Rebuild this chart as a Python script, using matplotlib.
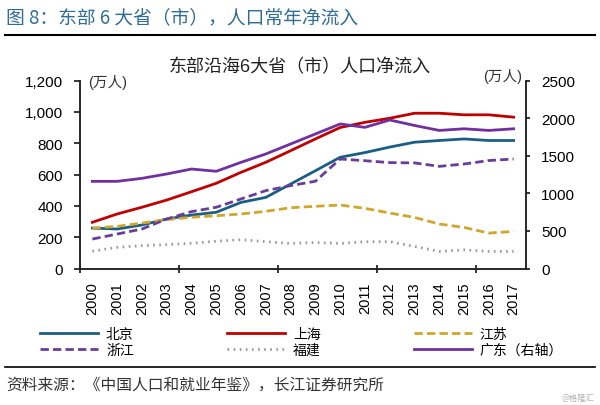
import numpy as np
import matplotlib
matplotlib.use("Agg")
import matplotlib.pyplot as plt
from matplotlib.lines import Line2D
from matplotlib.ticker import FuncFormatter

plt.rcParams["font.family"] = ["Liberation Sans", "Noto Sans CJK SC"]

years = [str(y) for y in range(2000, 2018)]

# 万人, left axis
beijing = [258, 252, 278, 316, 341, 359, 422, 454, 539, 624, 710, 740, 775, 806, 817, 827, 817, 817]
shanghai = [295, 348, 391, 437, 490, 544, 614, 678, 752, 827, 900, 933, 959, 991, 991, 981, 981, 966]
jiangsu = [258, 269, 290, 312, 327, 337, 348, 365, 388, 397, 405, 384, 354, 326, 284, 262, 226, 237]
zhejiang = [188, 220, 252, 316, 363, 391, 444, 497, 529, 557, 699, 688, 676, 674, 652, 667, 689, 699]
fujian = [110, 135, 146, 152, 161, 174, 184, 171, 160, 166, 160, 171, 171, 141, 109, 119, 109, 109]
# 万人, right axis
guangdong = [1159, 1159, 1199, 1257, 1323, 1293, 1412, 1523, 1656, 1789, 1922, 1877, 1975, 1902, 1836, 1858, 1836, 1858]

C_BJ = "#1b5e83"
C_SH = "#c00000"
C_JS = "#d2a62c"
C_ZJ = "#6a3d9a"
C_FJ = "#9a9a9a"
C_GD = "#7030a0"

fig = plt.figure(figsize=(6, 4.06), dpi=100)
ax = fig.add_axes([80 / 600, 1 - 269.5 / 406, 446 / 600, 188 / 406])
ax2 = ax.twinx()

x = np.arange(len(years))
lw = 2.0
h_bj, = ax.plot(x, beijing, color=C_BJ, lw=lw)
h_sh, = ax.plot(x, shanghai, color=C_SH, lw=lw)
h_js, = ax.plot(x, jiangsu, color=C_JS, lw=lw, dashes=(3, 1.5))
h_zj, = ax.plot(x, zhejiang, color=C_ZJ, lw=lw, dashes=(3, 1.5))
h_fj, = ax.plot(x, fujian, color=C_FJ, lw=lw, dashes=(0.6, 1.6))
h_gd, = ax2.plot(x, guangdong, color=C_GD, lw=lw)

ax.set_xlim(-0.5, len(years) - 0.5)
ax.set_ylim(0, 1200)
ax2.set_ylim(0, 2500)
ax.set_yticks(range(0, 1201, 200))
ax.yaxis.set_major_formatter(FuncFormatter(lambda v, p: f"{int(v):,}"))
ax2.set_yticks(range(0, 2501, 500))

ax.set_xticks(x)
ax.set_xticklabels(years, rotation=90)
ax.set_xticks([-0.5, 3.5, 7.5, 11.5, 15.5], minor=True)
ax.tick_params(axis="x", which="major", length=0, pad=9, labelsize=10.5)
ax.tick_params(axis="x", which="minor", direction="inout", length=6, width=1.1)
ax.tick_params(axis="y", direction="out", length=4.5, width=1.1, pad=8, labelsize=11)
ax2.tick_params(axis="y", direction="out", length=3, width=1.1, pad=8, labelsize=11)

for a in (ax, ax2):
    a.spines["top"].set_visible(False)
    for s in ("left", "right", "bottom"):
        a.spines[s].set_linewidth(1.1)
        a.spines[s].set_color("#222222")

fig.text(300 / 600, 1 - 68 / 406, "东部沿海6大省（市）人口净流入", fontsize=13,
         ha="center", va="center", color="#222222")
fig.text(88 / 600, 1 - 83 / 406, "(万人)", fontsize=10.5, ha="left", va="center",
         color="#333333")
fig.text(522 / 600, 1 - 76 / 406, "(万人)", fontsize=10.5, ha="right", va="center",
         color="#333333")

# header and footer
fig.text(6 / 600, 1 - 18 / 406, "图 8：东部 6 大省（市），人口常年净流入", fontsize=13.5,
         ha="left", va="center", color="#2f6c98", family=["Noto Sans CJK SC"])
fig.add_artist(Line2D([5 / 600, 595 / 600], [1 - 36 / 406] * 2, color="black", lw=1.5))
fig.add_artist(Line2D([5 / 600, 595 / 600], [1 - 368 / 406] * 2, color="black", lw=1.2))
fig.text(6 / 600, 1 - 385 / 406, "资料来源：《中国人口和就业年鉴》，长江证券研究所",
         fontsize=11.3, ha="left", va="center", color="#333333",
         family=["Noto Sans CJK SC"])
fig.text(595 / 600, 1 - 398 / 406, "@格隆汇", fontsize=6, ha="right", va="center",
         color="#b0b0b0", family=["Noto Sans CJK SC"])

handles = [h_bj, h_zj, h_sh, h_fj, h_js, h_gd]
labels = ["北京", "浙江", "上海", "福建", "江苏", "广东（右轴）"]
fig.legend(handles, labels, ncol=3, loc="upper left",
           bbox_to_anchor=(40 / 600, 1 - 328 / 406), frameon=False,
           fontsize=10, handlelength=4.2, handletextpad=0.55,
           columnspacing=6.7, labelspacing=0.15, borderpad=0, borderaxespad=0)

fig.savefig("out.png", dpi=100)
